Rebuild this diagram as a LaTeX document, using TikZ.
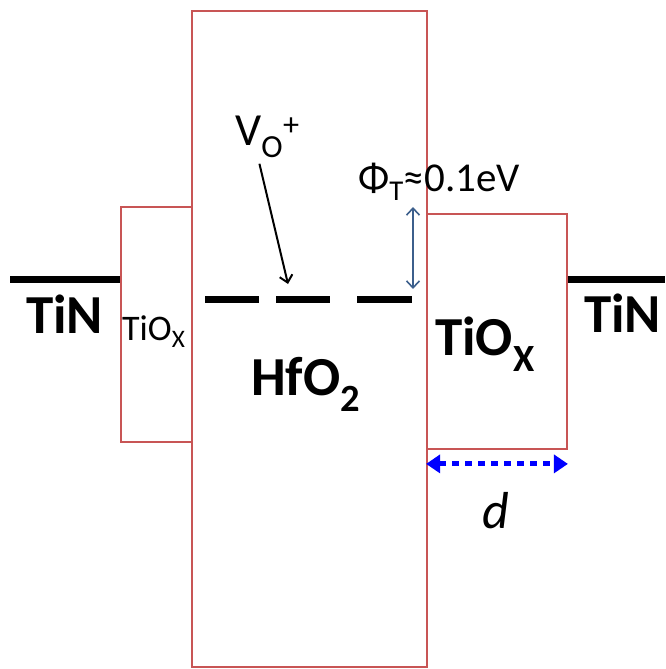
\documentclass[tikz,border=0pt]{standalone}
\usepackage{fontspec}
\setmainfont{Carlito}
\usetikzlibrary{arrows.meta,positioning,calc}
\definecolor{oxred}{RGB}{200,85,85}
\definecolor{steel}{RGB}{60,95,140}
\definecolor{dotblue}{RGB}{0,0,255}
\definecolor{ink}{RGB}{0,0,0}
\tikzset{
  layer/.style={draw=oxred,line width=1.8pt,rectangle,inner sep=0pt},
  level/.style={draw=ink,line width=7pt},
  pointer/.style={-{Straight Barb[length=7pt,width=13pt]},draw=ink,line width=2pt},
  gap/.style={{Straight Barb[length=7pt,width=13pt]}-{Straight Barb[length=7pt,width=13pt]},draw=steel,line width=1.6pt},
  span/.style={{Triangle[length=14pt,width=18pt]}-{Triangle[length=14pt,width=18pt]},draw=dotblue,
    line width=5pt,dash pattern=on 7pt off 6pt},
  big/.style={font=\fontsize{55}{60}\selectfont\bfseries,inner sep=0pt,anchor=base west},
  small/.style={font=\fontsize{36}{40}\selectfont,inner sep=0pt,anchor=base west},
  tag/.style={font=\fontsize{#1}{#1}\selectfont,inner sep=0pt,anchor=base west},
  tag/.default=40,
}
\begin{document}
\begin{tikzpicture}[x=1pt,y=-1pt]
  \useasboundingbox (0,0) rectangle (665,669);
  % layers
  \node[layer,minimum width=235pt,minimum height=656pt] (hfo) at (309.5,339) {};
  \node[layer,minimum width=71pt,minimum height=235pt] (tiol) at (156.5,324.5) {};
  \node[layer,minimum width=140pt,minimum height=235pt] (tior) at (497,331.5) {};
  % electrodes
  \coordinate (fl) at (10,279);
  \coordinate (fr) at (665,279);
  \draw[level] (fl) -- (fl -| tiol.west);
  \draw[level] (tior.east |- fr) -- (fr);
  % trap level
  \foreach \a/\b in {205/259,276/330,357/412}
    \draw[level] (\a,299) -- (\b,299);
  \coordinate (trap) at (288,284);
  \coordinate (gt) at (413,207);
  \coordinate (gb) at (413,289);
  % labels
  \node[big] (tinl) at (26,333) {TiN};
  \node[big] (tinr) at (584,332) {TiN};
  \node[big] (hf) at (251,395) {HfO\textsubscript{2}};
  \node[big] (tr) at (435,355) {TiO\textsubscript{X}};
  \node[small] (tl) at (122,340) {TiO\textsubscript{X}};
  \node[tag=46] (vo) at (235,145) {V\textsubscript{O}\textsuperscript{+}};
  \node[tag=41] (phi) at (358,191) {Φ\textsubscript{T}≈0.1eV};
  \node[tag=52] (d) at (482,528) {\itshape d};
  % arrows
  \draw[pointer] ([xshift=-8pt,yshift=-6pt]vo.south) -- (trap);
  \draw[gap] (gt) -- (gb);
  \draw[span] ([yshift=-14pt]tior.south west) -- ([yshift=-14pt]tior.south east);
\end{tikzpicture}
\end{document}
